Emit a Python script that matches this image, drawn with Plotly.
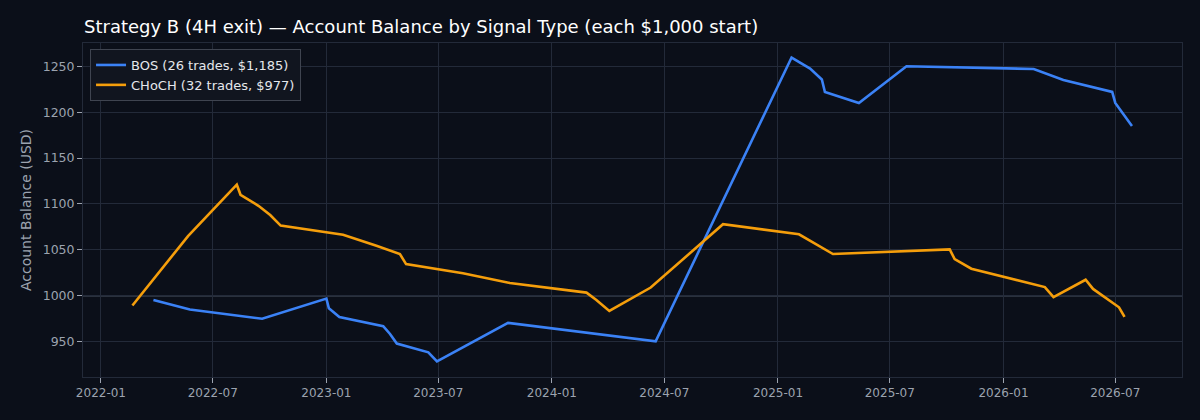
import plotly.graph_objects as go

# BOS signal balance curve
bos_dates = ['2022-03-27', '2022-05-25', '2022-09-19', '2023-01-01', '2023-01-05',
             '2023-01-22', '2023-04-03', '2023-04-14', '2023-04-25', '2023-06-15',
             '2023-06-29', '2023-10-22', '2024-06-17', '2025-01-23', '2025-02-22',
             '2025-03-13', '2025-03-18', '2025-05-12', '2025-07-28', '2026-02-19',
             '2026-04-08', '2026-06-26', '2026-07-01', '2026-07-28']
bos_balance = [995.5, 985, 975, 997, 986.5,
               977, 967, 958.5, 948, 938.5,
               928.5, 970.5, 950.5, 1259.5, 1247.5,
               1235.5, 1222, 1210, 1250, 1247,
               1235, 1222, 1210, 1185]

# CHoCH signal balance curve
choch_dates = ['2022-02-21', '2022-05-22', '2022-08-09', '2022-08-15', '2022-09-13',
               '2022-10-02', '2022-10-19', '2023-01-28', '2023-03-23', '2023-04-30',
               '2023-05-10', '2023-08-10', '2023-10-25', '2024-02-26', '2024-03-13',
               '2024-04-03', '2024-06-09', '2024-10-04', '2025-02-04', '2025-03-31',
               '2025-10-06', '2025-10-14', '2025-11-10', '2026-03-09', '2026-03-23',
               '2026-05-14', '2026-05-26', '2026-07-07', '2026-07-16']
choch_balance = [989.5, 1065, 1121, 1110, 1098,
                 1088, 1076.5, 1066.5, 1054.5, 1045.5,
                 1034.5, 1024.5, 1014, 1003.5, 995.5,
                 983.5, 1009, 1078, 1067, 1045.5,
                 1050.5, 1040, 1029.5, 1009.5, 998.5,
                 1017.5, 1007.5, 987.5, 977]

y_ticks = [950, 1000, 1050, 1100, 1150, 1200, 1250]
x_ticks = ['2022-01-01', '2022-07-01', '2023-01-01', '2023-07-01', '2024-01-01',
           '2024-07-01', '2025-01-01', '2025-07-01', '2026-01-01', '2026-07-01']
x_labels = ['2022-01', '2022-07', '2023-01', '2023-07', '2024-01',
            '2024-07', '2025-01', '2025-07', '2026-01', '2026-07']

bg = '#0b0f19'
grid = '#232a39'
txt = '#9ca3af'

W, H = 1200, 420

fig = go.Figure()
fig.add_trace(go.Scatter(x=bos_dates, y=bos_balance, mode='lines',
                         name='BOS (26 trades, $1,185)',
                         line=dict(color='#3b82f6', width=2.6)))
fig.add_trace(go.Scatter(x=choch_dates, y=choch_balance, mode='lines',
                         name='CHoCH (32 trades, $977)',
                         line=dict(color='#f59e0b', width=2.6)))

fig.add_hline(y=1000, line_color='#4b5563', line_width=1.3, layer='below')

fig.update_layout(
    width=W, height=H,
    paper_bgcolor=bg, plot_bgcolor=bg,
    font=dict(family='DejaVu Sans', color=txt, size=12),
    margin=dict(l=83, r=18, t=43, b=43),
    title=dict(text='Strategy B (4H exit) — Account Balance by Signal Type (each $1,000 start)',
               x=84 / W, xanchor='left', y=1 - 27 / H, yanchor='middle',
               font=dict(color='#ffffff', size=18)),
    legend=dict(x=0.0064, y=0.982, xanchor='left', yanchor='top',
                bgcolor='#11151f', bordercolor='#3f4450', borderwidth=1,
                font=dict(color='#e5e7eb', size=13)),
    showlegend=True,
)
fig.update_xaxes(range=['2021-12-03', '2026-10-17'], tickvals=x_ticks, ticktext=x_labels,
                 showgrid=True, gridcolor=grid, zeroline=False,
                 showline=True, linecolor=grid, mirror=True,
                 ticks='outside', ticklen=5, tickcolor=txt,
                 tickfont=dict(size=12, color=txt))
fig.update_yaxes(range=[911.6, 1275.3], tickvals=y_ticks,
                 showgrid=True, gridcolor=grid, zeroline=False,
                 showline=True, linecolor=grid, mirror=True,
                 ticks='outside', ticklen=5, tickcolor=txt,
                 tickfont=dict(size=12.5, color=txt),
                 title=dict(text='Account Balance (USD)', font=dict(size=14, color=txt), standoff=7))

# drop the browser's default body margin so the chart fills the window
fig.write_html("out.html", config={'displayModeBar': False},
               post_script="document.body.style.margin='0';document.body.style.background='%s';" % bg)
